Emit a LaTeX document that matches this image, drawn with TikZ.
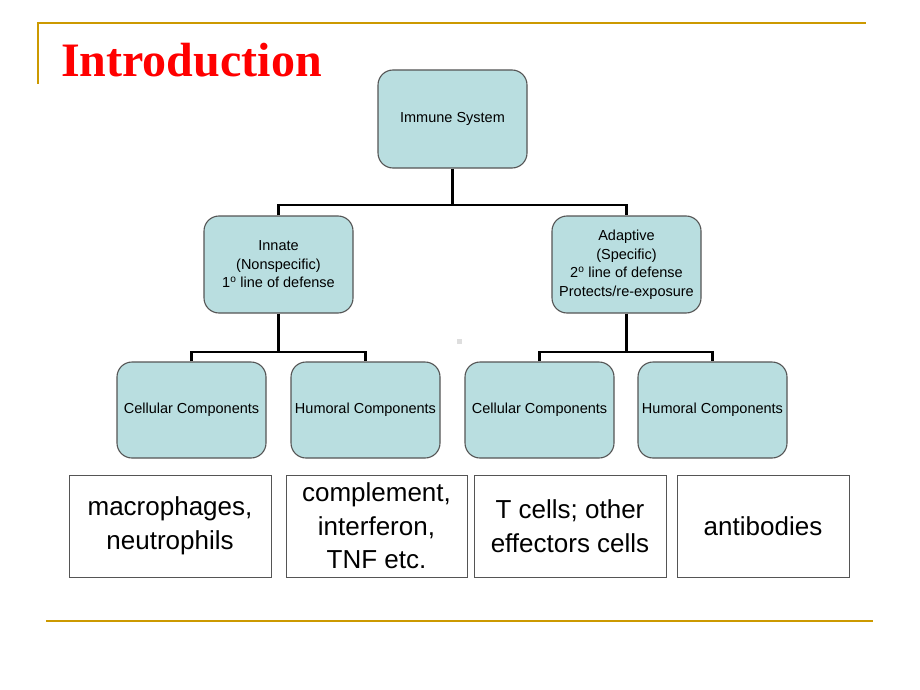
\documentclass[tikz,border=0pt]{standalone}
\usepackage{fontspec}
\setmainfont{Liberation Sans}
\newfontfamily\titlefont{Liberation Serif}
\definecolor{gold}{RGB}{204,153,0}
\definecolor{boxfill}{RGB}{185,222,224}
\definecolor{boxedge}{RGB}{85,85,85}
\definecolor{dotgray}{RGB}{222,222,222}
\begin{document}
\begin{tikzpicture}[x=1pt,y=-1pt,
  goldline/.style={draw=gold,line width=2.2pt},
  tealbox/.style={draw=boxedge,fill=boxfill,line width=1.1pt,rounded corners=15pt,
    align=center,inner sep=2pt,font=\fontsize{14.5}{18.5}\selectfont},
  conn/.style={draw=black,line width=2.5pt},
  textbox/.style={draw=boxedge,line width=1pt,fill=white,align=center,inner sep=2pt,
    font=\fontsize{26}{33.5}\selectfont}]
\useasboundingbox[fill=white] (0,0) rectangle (920,690);
% frame lines
\coordinate (tl) at (38,23);
\coordinate (tr) at (866,23);
\coordinate (lb) at (38,84);
\coordinate (bl) at (46,621);
\coordinate (br) at (873,621);
\draw[goldline] (lb) -- (tl) -- (tr);
\draw[goldline] (bl) -- (br);
% title
\node[anchor=base west,inner sep=0pt,text=red,font=\titlefont\bfseries\fontsize{48}{50}\selectfont] (title) at (61,77) {Introduction};
% level 1
\node[tealbox,minimum width=149pt,minimum height=98pt] (immune) at (452.5,119) {Immune System};
% level 2
\node[tealbox,minimum width=149pt,minimum height=97pt] (innate) at (278.5,264.5) {Innate\\(Nonspecific)\\1\textsuperscript{o} line of defense};
\node[tealbox,minimum width=149pt,minimum height=97pt] (adaptive) at (626.5,264.5) {Adaptive\\(Specific)\\2\textsuperscript{o} line of defense\\Protects/re-exposure};
% level 3
\node[tealbox,minimum width=149pt,minimum height=96pt] (cell1) at (191.5,410) {Cellular Components};
\node[tealbox,minimum width=149pt,minimum height=96pt] (hum1) at (365.5,410) {Humoral Components};
\node[tealbox,minimum width=149pt,minimum height=96pt] (cell2) at (539.5,410) {Cellular Components};
\node[tealbox,minimum width=149pt,minimum height=96pt] (hum2) at (712.5,410) {Humoral Components};
% connectors
\coordinate (j1) at (452.5,205);
\coordinate (j2) at (278.5,352);
\coordinate (j3) at (626.5,352);
\draw[conn] (immune.south) -- (j1);
\draw[conn] (innate.north) |- (j1) -| (adaptive.north);
\draw[conn] (innate.south) -- (j2);
\draw[conn] (cell1.north) |- (j2) -| (hum1.north);
\draw[conn] (adaptive.south) -- (j3);
\draw[conn] (cell2.north) |- (j3) -| (hum2.north);
% faint dot
\fill[dotgray] (457,339) rectangle (462,344);
% bottom text boxes
\node[textbox,minimum width=202pt,minimum height=102pt] (b1) at (170,526) {macrophages,\\neutrophils};
\node[textbox,minimum width=181pt,minimum height=102pt] (b2) at (376.5,526) {complement,\\interferon,\\TNF etc.};
\node[textbox,minimum width=192pt,minimum height=102pt] (b3) at (570,526) {T cells; other\\effectors cells};
\node[textbox,minimum width=172pt,minimum height=102pt] (b4) at (763,526) {antibodies};
\end{tikzpicture}
\end{document}
